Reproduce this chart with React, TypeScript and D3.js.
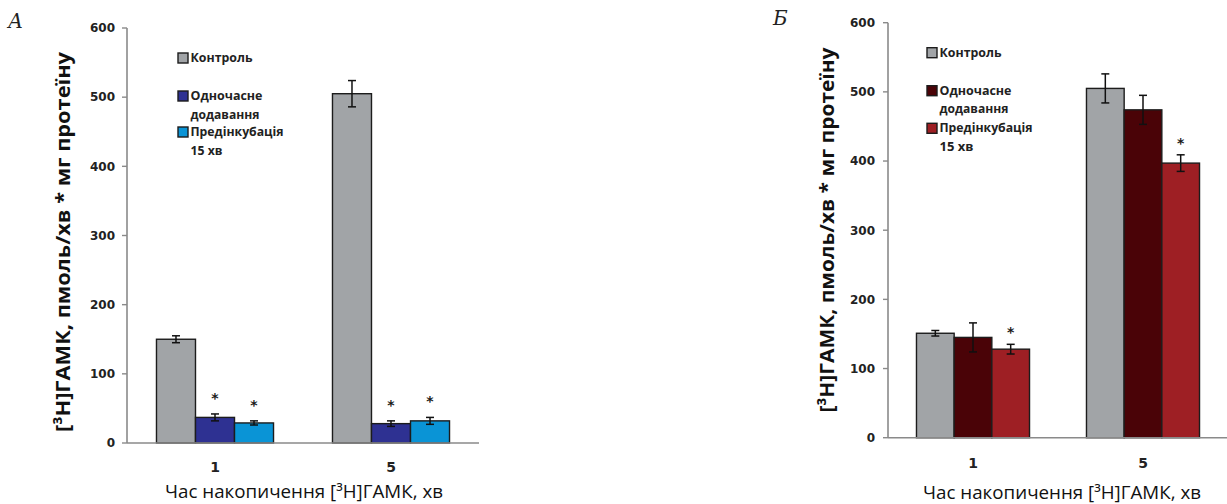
import React from 'react';
import * as d3 from 'd3';

const categories = ['1', '5'];
const yTicks = [0, 100, 200, 300, 400, 500, 600];
const legendLines = [['Контроль'], ['Одночасне', 'додавання'], ['Предінкубація', '15 хв']];
const xTitle = 'Час накопичення [³H]ГАМК, хв';
const yTitle = '[³H]ГАМК, пмоль/хв * мг протеїну';

// Panel A
const aControl = [150, 505];
const aSimult = [37, 28];
const aPreinc = [29, 32];
const aControlErr = [5, 19];
const aSimultErr = [5, 4];
const aPreincErr = [3, 5];
const aStarSimult = [true, true];
const aStarPreinc = [true, true];

// Panel B
const bControl = [151, 505];
const bSimult = [145, 474];
const bPreinc = [128, 397];
const bControlErr = [4, 21];
const bSimultErr = [21, 21];
const bPreincErr = [7, 12];
const bStarSimult = [false, false];
const bStarPreinc = [true, true];

const colorsA = ['#a1a4a7', '#2e3192', '#0a94d6'];
const colorsB = ['#a1a4a7', '#4a0307', '#9e1f24'];

type PanelProps = {
  letter: string;
  letterX: number; letterY: number;
  x0: number; x1: number; yTop: number; yBottom: number;
  values: number[][]; errors: number[][]; stars: boolean[][];
  colors: string[];
  legendX: number; legendYs: number[]; legendLens: number[][];
  yTitleX: number; yTitleY: number; yTitleLen: number;
  xTitleX: number; xTitleY: number;
  tickRight: number; xTickY: number; starOffset: number;
};

function Panel(p: PanelProps) {
  const y = d3.scaleLinear().domain([0, 600]).range([p.yBottom, p.yTop]);
  const xb = d3.scaleBand<string>().domain(categories).range([p.x0, p.x1]).paddingInner(0).paddingOuter(0);
  const groupW = xb.bandwidth() * 0.665;
  const xs = d3.scaleBand<number>().domain([0, 1, 2]).range([-groupW / 2, groupW / 2]).padding(0);
  const bw = xs.bandwidth();
  const bold = "'Open Sans', sans-serif";
  return (
    <g>
      <text x={p.letterX} y={p.letterY} fontFamily="'DejaVu Serif', serif" fontStyle="italic" fontSize={20} fill="#222">{p.letter}</text>
      {p.values.map((ser, si) =>
        ser.map((v, ci) => {
          const cx = (xb(categories[ci]) as number) + xb.bandwidth() / 2;
          const bx = cx + (xs(si) as number);
          return (
            <rect key={`b${si}${ci}`} x={bx} y={y(v)} width={bw} height={y(0) - y(v)}
              fill={p.colors[si]} stroke="#1c1c1c" strokeWidth={1.4} />
          );
        })
      )}
      <line x1={p.x0} x2={p.x0} y1={y(0)} y2={y(600)} stroke="#8a8a8a" strokeWidth={1.6} />
      <line x1={p.x0} x2={p.x1} y1={y(0)} y2={y(0)} stroke="#8a8a8a" strokeWidth={1.6} />
      {yTicks.map(t => (
        <g key={t}>
          <line x1={p.x0 - 5} x2={p.x0} y1={y(t)} y2={y(t)} stroke="#8a8a8a" strokeWidth={1.4} />
          <text x={p.tickRight} y={y(t)} dy="0.36em" textAnchor="end" fontFamily="'DejaVu Sans', sans-serif"
            fontWeight="bold" fontSize={12} fill="#222">{t}</text>
        </g>
      ))}
      {p.values.map((ser, si) =>
        ser.map((v, ci) => {
          const cx = (xb(categories[ci]) as number) + xb.bandwidth() / 2 + (xs(si) as number) + bw / 2;
          const e = p.errors[si][ci];
          const top = y(v + e), bot = y(v - e);
          return (
            <g key={`e${si}${ci}`}>
              <line x1={cx} x2={cx} y1={top} y2={bot} stroke="#111" strokeWidth={1.5} />
              <line x1={cx - 4} x2={cx + 4} y1={top} y2={top} stroke="#111" strokeWidth={1.5} />
              <line x1={cx - 4} x2={cx + 4} y1={bot} y2={bot} stroke="#111" strokeWidth={1.5} />
              {p.stars[si][ci] && (
                <text x={cx} y={top - p.starOffset + 8} textAnchor="middle" fontFamily="'DejaVu Sans', sans-serif"
                  fontWeight="bold" fontSize={14} fill="#1a1a1a">*</text>
              )}
            </g>
          );
        })
      )}
      {categories.map(c => (
        <text key={c} x={(xb(c) as number) + xb.bandwidth() / 2} y={p.xTickY} dy="0.36em" textAnchor="middle"
          fontFamily="'DejaVu Sans', sans-serif" fontWeight="bold" fontSize={14} fill="#222">{c}</text>
      ))}
      {legendLines.map((lines, li) => (
        <g key={li}>
          <rect x={p.legendX} y={p.legendYs[li] - 5} width={10} height={10} fill={p.colors[li]} stroke="#1c1c1c" strokeWidth={1.4} />
          {lines.map((ln, k) => (
            <text key={k} x={p.legendX + 12.5} y={p.legendYs[li] + k * 18.5} dy="0.36em" fontFamily={bold}
              fontWeight="bold" fontSize={11.5} fill="#222" textLength={p.legendLens[li][k]}
              lengthAdjust="spacingAndGlyphs">{ln}</text>
          ))}
        </g>
      ))}
      <text transform={`translate(${p.yTitleX},${p.yTitleY}) rotate(-90)`} textAnchor="middle" dy="0.36em"
        fontFamily={bold} fontWeight="bold" fontSize={20} fill="#111" textLength={p.yTitleLen}
        lengthAdjust="spacingAndGlyphs">{yTitle}</text>
      <text x={p.xTitleX} y={p.xTitleY} dy="0.36em" textAnchor="middle" fontFamily="'Open Sans', sans-serif"
        fontSize={18} fill="#111" textLength={278} lengthAdjust="spacingAndGlyphs">{xTitle}</text>
    </g>
  );
}

export default function App() {
  return (
    <svg width={1227} height={504} style={{ position: 'absolute', left: 0, top: 0, background: '#fff' }}>
      <rect width={1227} height={504} fill="#fff" />
      <Panel letter="А" letterX={8} letterY={28} x0={127} x1={479} yTop={28} yBottom={443}
        values={[aControl, aSimult, aPreinc]} errors={[aControlErr, aSimultErr, aPreincErr]}
        stars={[[false, false], aStarSimult, aStarPreinc]} colors={colorsA}
        legendX={178} legendYs={[58, 96, 132]} legendLens={[[62], [72, 69], [93, 32]]}
        yTitleX={63} yTitleY={242} yTitleLen={380} xTitleX={304} xTitleY={492}
        tickRight={115} xTickY={467} starOffset={19} />
      <Panel letter="Б" letterX={773} letterY={25} x0={888} x1={1228} yTop={22.7} yBottom={437.7}
        values={[bControl, bSimult, bPreinc]} errors={[bControlErr, bSimultErr, bPreincErr]}
        stars={[[false, false], bStarSimult, bStarPreinc]} colors={colorsB}
        legendX={927} legendYs={[52.7, 90.7, 128.3]} legendLens={[[62], [72, 69], [93, 34]]}
        yTitleX={827} yTitleY={230} yTitleLen={365} xTitleX={1062} xTitleY={492.5}
        tickRight={875} xTickY={463} starOffset={15} />
    </svg>
  );
}
